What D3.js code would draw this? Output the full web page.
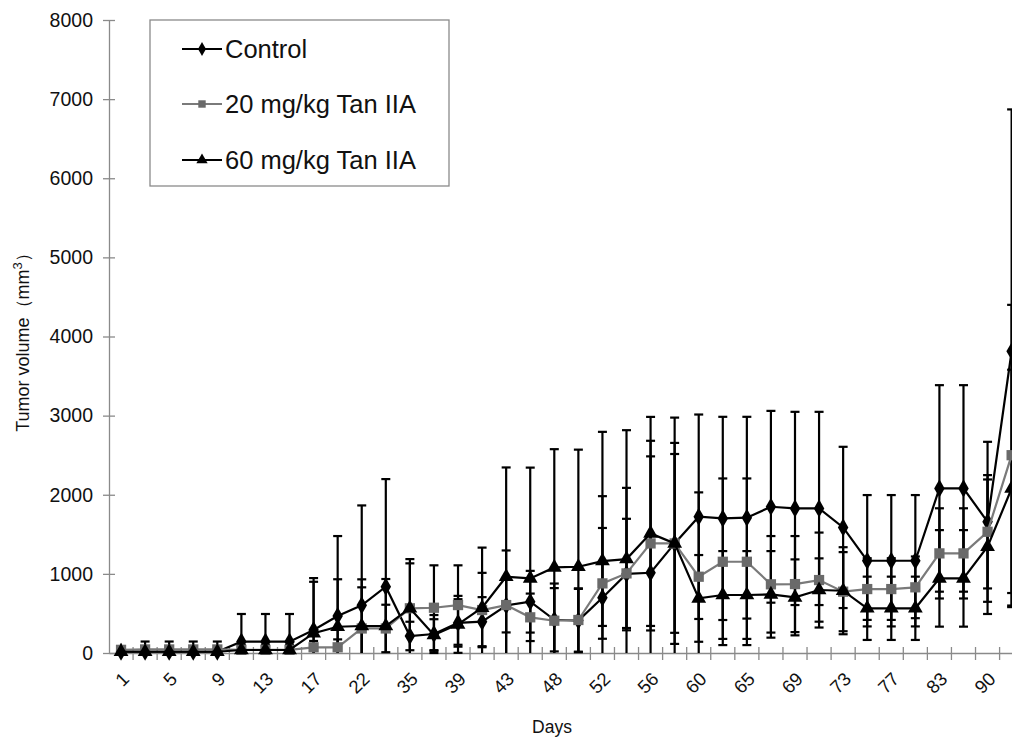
<!DOCTYPE html>
<html><head><meta charset="utf-8">
<script src="https://cdn.jsdelivr.net/npm/d3@7"></script>
<style>html,body{margin:0;padding:0;background:#fff;}svg{display:block;font-family:Arial,"Liberation Sans",sans-serif;}</style>
</head><body>
<svg id="c" width="1012" height="738"></svg>
<script>
const days = [1,3,5,7,9,11,13,15,17,20,22,26,35,37,39,41,43,46,48,50,52,54,56,58,60,63,65,67,69,71,73,75,77,80,83,86,90,92];
const tickLabels = ["1","5","9","13","17","22","35","39","43","48","52","56","60","65","69","73","77","83","90"];
const yTicks = [0,1000,2000,3000,4000,5000,6000,7000,8000];
const seriesNames = ["Control","20 mg/kg Tan IIA","60 mg/kg Tan IIA"];
const controlMean = [16,16,16,16,16,143,143,143,290,467,602,838,215,240,380,396,600,648,420,410,699,1000,1014,1385,1722,1701,1710,1848,1827,1827,1587,1166,1166,1166,2080,2080,1658,3814];
const controlSD   = [40,40,40,40,40,350,350,350,657,1011,1263,1360,180,240,300,310,340,390,400,400,2096,1816,1970,1590,1292,1284,1275,1212,1221,1221,1019,830,830,830,1305,1305,1011,3056];
const tan20Mean = [40,45,45,45,45,40,40,40,72,72,310,310,565,572,606,543,606,451,408,417,880,1006,1385,1385,964,1153,1153,868,871,922,775,808,808,830,1259,1259,1532,2500];
const tan20SD   = [40,100,100,100,100,50,50,50,80,100,520,300,568,536,502,470,690,300,470,400,700,690,1100,1130,1066,1053,1053,610,607,600,500,390,390,390,570,570,716,1900];
const tan60Mean = [16,16,16,16,16,38,38,38,250,332,341,341,565,227,362,572,964,943,1082,1090,1162,1187,1512,1385,690,733,733,741,703,796,787,565,565,565,943,943,1343,2080];
const tan60SD   = [40,40,40,40,40,60,60,60,650,600,590,594,622,200,360,760,1381,1400,1494,1480,820,900,1170,1270,548,555,555,547,480,400,550,400,400,400,610,610,850,1500];

const svg = d3.select("#c");
const x0 = 109, bandW = 24.07;
const x = d3.scaleBand().domain(days.map(String)).range([x0, x0 + days.length*bandW]).paddingInner(0).paddingOuter(0);
const cx = d => x(String(d)) + x.bandwidth()/2;
const y = d3.scaleLinear().domain([0,8000]).range([653,20]).clamp(true);
const axisCol = "#8a8a8a";

// Y axis
const ya = svg.append("g").attr("transform",`translate(${x0},0)`)
  .call(d3.axisLeft(y).tickValues(yTicks).tickSize(6).tickSizeOuter(0).tickFormat(d3.format("d")));
ya.select(".domain").attr("stroke",axisCol).attr("stroke-width",1.3);
ya.selectAll(".tick line").attr("stroke",axisCol).attr("x1",6).attr("x2",-6).attr("stroke-width",1.3);
ya.selectAll(".tick text").attr("x",-16).attr("font-size",19.5).attr("fill","#111").attr("font-family","Arial, 'Liberation Sans', sans-serif");

// X axis
const xa = svg.append("g").attr("transform","translate(0,653)")
  .call(d3.axisBottom(x).tickSize(0).tickSizeOuter(0).tickFormat((d,i)=> i%2===0 ? d : ""));
xa.select(".domain").attr("stroke",axisCol).attr("stroke-width",1.3);
xa.selectAll(".tick text").attr("font-size",18.5).attr("fill","#111").attr("font-family","Arial, 'Liberation Sans', sans-serif")
  .attr("text-anchor","end").attr("dy",0)
  .attr("transform","translate(7,25) rotate(-45)");
// category boundary tick marks
svg.append("g").selectAll("line").data(days.slice(1)).join("line")
  .attr("x1",d=>x(String(d))).attr("x2",d=>x(String(d)))
  .attr("y1",647).attr("y2",660).attr("stroke",axisCol).attr("stroke-width",1.3);

// axis titles
svg.append("text").attr("x",552).attr("y",733).attr("text-anchor","middle").attr("font-size",17.5).attr("fill","#111").text("Days");
const yt = svg.append("text").attr("transform","translate(29,338) rotate(-90)").attr("text-anchor","middle").attr("font-size",18).attr("fill","#111");
yt.append("tspan").text("Tumor volume（mm");
yt.append("tspan").attr("font-size",13).attr("dy",-7).text("3");
yt.append("tspan").attr("dy",7).text("）");

const series = [
  {name:seriesNames[0], mean:controlMean, sd:controlSD, color:"#000", mcolor:"#000", marker:"diamond"},
  {name:seriesNames[1], mean:tan20Mean, sd:tan20SD, color:"#7a7a7a", mcolor:"#6a6a6a", marker:"square"},
  {name:seriesNames[2], mean:tan60Mean, sd:tan60SD, color:"#000", mcolor:"#000", marker:"triangle"}
];

const plot = svg.append("g");
// error bars
series.forEach(s=>{
  const g = plot.append("g");
  days.forEach((d,i)=>{
    const hi = s.mean[i]+s.sd[i], lo = s.mean[i]-s.sd[i];
    const xx = cx(d);
    g.append("line").attr("x1",xx).attr("x2",xx).attr("y1",y(lo)).attr("y2",y(hi)).attr("stroke","#000").attr("stroke-width",2.2);
    if (hi <= 8000) g.append("line").attr("x1",xx-4.5).attr("x2",xx+4.5).attr("y1",y(hi)).attr("y2",y(hi)).attr("stroke","#000").attr("stroke-width",2.2);
    if (lo >= 0) g.append("line").attr("x1",xx-4.5).attr("x2",xx+4.5).attr("y1",y(lo)).attr("y2",y(lo)).attr("stroke","#000").attr("stroke-width",2.2);
  });
});

const symType = {diamond:d3.symbolDiamond, square:d3.symbolSquare, triangle:d3.symbolTriangle};
const symSize = {diamond:95, square:105, triangle:95};
series.forEach(s=>{
  const line = d3.line().x((d,i)=>cx(days[i])).y(d=>y(d));
  plot.append("path").datum(s.mean).attr("d",line).attr("fill","none").attr("stroke",s.color).attr("stroke-width",2.2);
  plot.append("g").selectAll("path").data(s.mean).join("path")
    .attr("transform",(d,i)=>`translate(${cx(days[i])},${y(d)})`)
    .attr("d",d3.symbol().type(symType[s.marker]).size(symSize[s.marker])).attr("fill",s.mcolor);
});

// legend
const lg = svg.append("g");
lg.append("rect").attr("x",150).attr("y",20).attr("width",299).attr("height",166).attr("fill","#fff").attr("stroke","#8a8a8a").attr("stroke-width",1.3);
const ly = [49,104,160];
series.forEach((s,i)=>{
  lg.append("line").attr("x1",182).attr("x2",222).attr("y1",ly[i]).attr("y2",ly[i]).attr("stroke",s.color).attr("stroke-width",2);
  lg.append("path").attr("transform",`translate(202,${ly[i]})`).attr("d",d3.symbol().type(symType[s.marker]).size(55)).attr("fill",s.mcolor);
  lg.append("text").attr("x",225).attr("y",ly[i]+9).attr("font-size",25.5).attr("fill","#111").text(s.name);
});
</script>
</body></html>
